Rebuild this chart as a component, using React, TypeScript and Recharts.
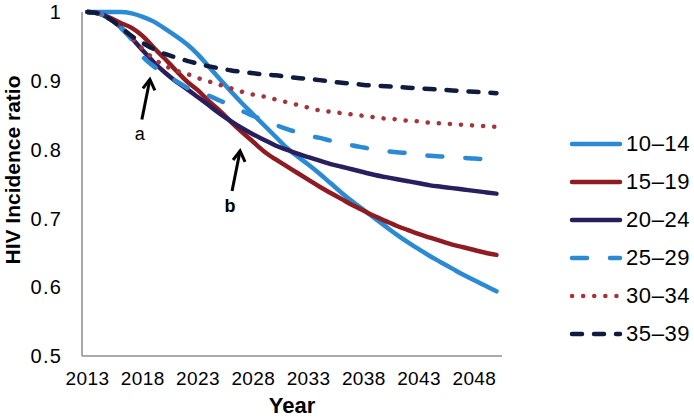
import React from 'react';
import {
  LineChart,
  Line,
  XAxis,
  YAxis,
  ReferenceDot,
} from 'recharts';

const years = [
  2013, 2014, 2015, 2016, 2017, 2018, 2019, 2020, 2021, 2022,
  2023, 2024, 2025, 2026, 2027, 2028, 2029, 2030, 2031, 2032,
  2033, 2034, 2035, 2036, 2037, 2038, 2039, 2040, 2041, 2042,
  2043, 2044, 2045, 2046, 2047, 2048, 2049, 2050,
];

const age10_14 = [
  1.0, 1.0, 1.0, 1.0, 0.998, 0.993, 0.986, 0.976, 0.965, 0.953,
  0.938, 0.92, 0.902, 0.884, 0.867, 0.851, 0.835, 0.819, 0.803, 0.79,
  0.778, 0.765, 0.751, 0.737, 0.724, 0.712, 0.7, 0.688, 0.676, 0.665,
  0.655, 0.645, 0.636, 0.627, 0.618, 0.61, 0.602, 0.594,
];
const age15_19 = [
  1.0, 0.998, 0.992, 0.984, 0.977, 0.965, 0.948, 0.932, 0.915, 0.899,
  0.886, 0.87, 0.856, 0.84, 0.825, 0.811, 0.797, 0.786, 0.776, 0.766,
  0.756, 0.746, 0.737, 0.728, 0.719, 0.711, 0.703, 0.696, 0.689, 0.683,
  0.677, 0.672, 0.667, 0.662, 0.658, 0.654, 0.65, 0.647,
];
const age20_24 = [
  1.0, 0.998, 0.99, 0.978, 0.962, 0.944, 0.927, 0.912, 0.899, 0.888,
  0.876, 0.864, 0.852, 0.841, 0.831, 0.822, 0.814, 0.806, 0.8, 0.794,
  0.789, 0.784, 0.779, 0.775, 0.771, 0.767, 0.763, 0.76, 0.757, 0.754,
  0.751, 0.748, 0.746, 0.744, 0.742, 0.74, 0.738, 0.736,
];
const age25_29 = [
  1.0, 0.998, 0.99, 0.977, 0.96, 0.935, 0.921, 0.91, 0.9, 0.89,
  0.883, 0.878, 0.871, 0.864, 0.856, 0.849, 0.842, 0.836, 0.83, 0.825,
  0.82, 0.817, 0.813, 0.81, 0.806, 0.803, 0.8, 0.798, 0.796, 0.795,
  0.793, 0.791, 0.79, 0.789, 0.788, 0.787, 0.786, 0.785,
];
const age30_34 = [
  1.0, 0.998, 0.99, 0.978, 0.962, 0.946, 0.932, 0.922, 0.915, 0.91,
  0.904, 0.899, 0.894, 0.889, 0.884, 0.88, 0.877, 0.873, 0.869, 0.865,
  0.861, 0.857, 0.855, 0.853, 0.851, 0.849, 0.847, 0.845, 0.844, 0.842,
  0.841, 0.839, 0.838, 0.837, 0.836, 0.835, 0.834, 0.833,
];
const age35_39 = [
  1.0, 0.998, 0.99, 0.978, 0.965, 0.955, 0.946, 0.939, 0.934, 0.929,
  0.925, 0.921, 0.918, 0.915, 0.913, 0.911, 0.909, 0.908, 0.906, 0.904,
  0.903, 0.901, 0.899, 0.897, 0.896, 0.894, 0.893, 0.892, 0.891, 0.89,
  0.889, 0.888, 0.887, 0.886, 0.885, 0.884, 0.883, 0.882,
];

const xTicks = [2013, 2018, 2023, 2028, 2033, 2038, 2043, 2048];
const yTicks = [0.5, 0.6, 0.7, 0.8, 0.9, 1];

// arrows pointing at the two kinks
const notes = [
  { label: 'a', year: 2018.64, value: 0.902, bold: false },
  { label: 'b', year: 2026.8, value: 0.798, bold: true },
];

const series = [
  { key: 'a10', name: '10–14', values: age10_14, color: '#2b8ad4', dash: undefined },
  { key: 'a15', name: '15–19', values: age15_19, color: '#8e1c22', dash: undefined },
  { key: 'a20', name: '20–24', values: age20_24, color: '#2a1f5e', dash: undefined },
  { key: 'a25', name: '25–29', values: age25_29, color: '#2b8ad4', dash: '15 23' },
  { key: 'a30', name: '30–34', values: age30_34, color: '#a3353b', dash: '0.1 11' },
  { key: 'a35', name: '35–39', values: age35_39, color: '#0f1b3f', dash: '10 12' },
];

const data = years.map((year, i) => {
  const row: Record<string, number> = { year };
  series.forEach((s) => {
    row[s.key] = s.values[i];
  });
  return row;
});

const font = 'Arial, "Liberation Sans", sans-serif';

function Arrow(props: any) {
  const { cx, cy, label, bold } = props;
  const tx = cx - 8;
  const ty = cy + 40;
  return (
    <g>
      <line x1={tx} y1={ty} x2={cx} y2={cy} stroke="#000" strokeWidth={3} />
      <polyline
        points={`${cx - 7},${cy + 9} ${cx},${cy} ${cx + 5},${cy + 11}`}
        fill="none"
        stroke="#000"
        strokeWidth={3}
      />
      <text
        x={tx - 2}
        y={ty + 15}
        textAnchor="middle"
        dominantBaseline="central"
        fontFamily={font}
        fontSize={18}
        fontWeight={bold ? 'bold' : 'normal'}
        fill="#000"
      >
        {label}
      </text>
    </g>
  );
}

function LegendBox() {
  return (
    <div style={{ position: 'absolute', left: 569, top: 125, width: 125 }}>
      {series.map((s) => (
        <div key={s.key} style={{ display: 'flex', alignItems: 'center', height: 38 }}>
          <svg width={54} height={12}>
            <line
              x1={3}
              y1={6}
              x2={51}
              y2={6}
              stroke={s.color}
              strokeWidth={4.5}
              strokeLinecap="round"
              strokeDasharray={s.dash}
            />
          </svg>
          <span style={{ fontFamily: font, fontSize: 22, letterSpacing: 0.6, color: '#000', marginLeft: 3 }}>
            {s.name}
          </span>
        </div>
      ))}
    </div>
  );
}

export default function App() {
  return (
    <div style={{ position: 'absolute', left: 0, top: 0, width: 694, height: 417, background: '#fff' }}>
      <LineChart width={694} height={417} data={data} margin={{ top: 12, right: 192, bottom: 0, left: 0 }}>
        <XAxis
          dataKey="year"
          type="number"
          domain={[2012.5, 2050.5]}
          ticks={xTicks}
          interval={0}
          height={61}
          tickLine={false}
          tickSize={0}
          tickMargin={16}
          axisLine={{ stroke: '#8c8c8c', strokeWidth: 1.5 }}
          tick={{ fill: '#000', fontSize: 19, fontFamily: font, letterSpacing: 0.4 }}
          label={{
            content: (p: any) => (
              <text
                x={p.viewBox.x + p.viewBox.width / 2}
                y={p.viewBox.y + 57}
                textAnchor="middle"
                fontFamily={font}
                fontSize={22}
                fontWeight="bold"
                fill="#000"
              >
                Year
              </text>
            ),
          }}
        />
        <YAxis
          type="number"
          domain={[0.5, 1]}
          ticks={yTicks}
          interval={0}
          width={82}
          tickLine={false}
          tickSize={0}
          tickMargin={20}
          axisLine={{ stroke: '#8c8c8c', strokeWidth: 1.5 }}
          tick={{ fill: '#000', fontSize: 20, fontFamily: font, letterSpacing: 1.2 }}
          label={{
            content: () => (
              <text
                x={12}
                y={170}
                transform="rotate(-90 12 170)"
                textAnchor="middle"
                dominantBaseline="central"
                fontFamily={font}
                fontSize={21}
                fontWeight="bold"
                fill="#000"
              >
                HIV Incidence ratio
              </text>
            ),
          }}
        />
        {series.map((s) => (
          <Line
            key={s.key}
            dataKey={s.key}
            name={s.name}
            type="monotone"
            stroke={s.color}
            strokeWidth={4.5}
            strokeLinecap="round"
            strokeDasharray={s.dash}
            dot={false}
            activeDot={false}
            isAnimationActive={false}
          />
        ))}
        {notes.map((n) => (
          <ReferenceDot
            key={n.label}
            x={n.year}
            y={n.value}
            r={0}
            shape={(p: any) => <Arrow {...p} label={n.label} bold={n.bold} />}
          />
        ))}
      </LineChart>
      <LegendBox />
    </div>
  );
}
